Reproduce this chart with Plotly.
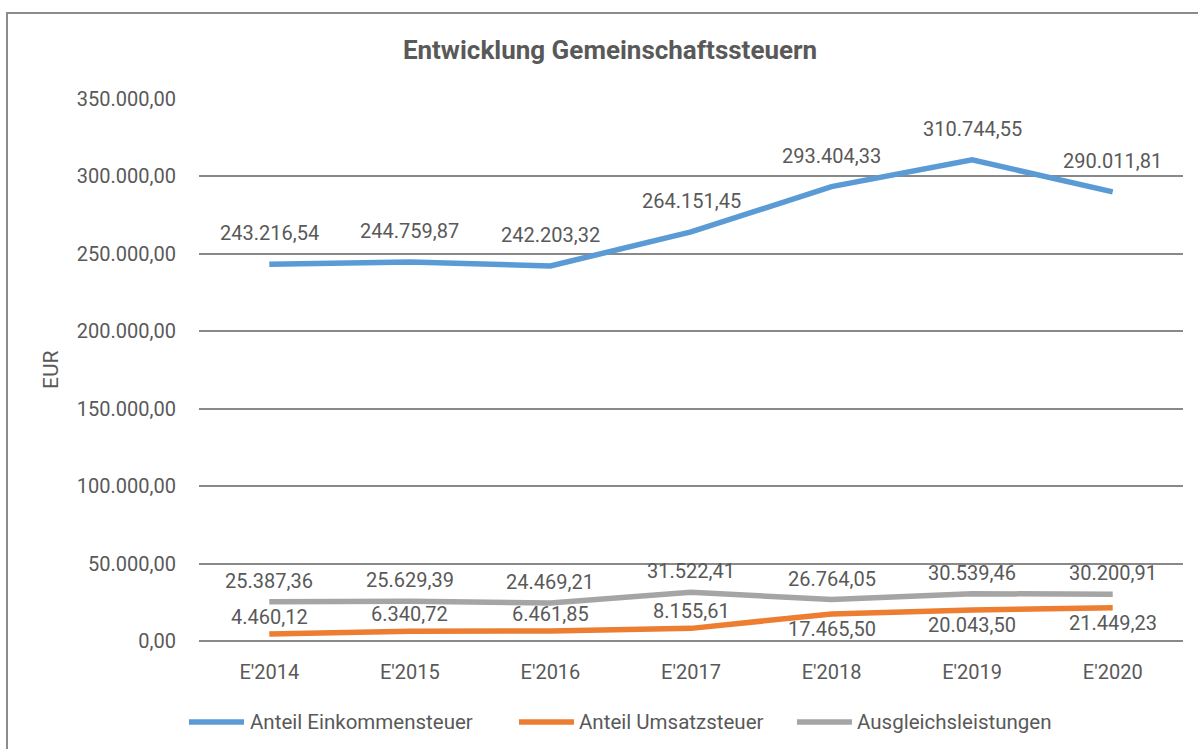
import plotly.graph_objects as go

categories = ["E'2014", "E'2015", "E'2016", "E'2017", "E'2018", "E'2019", "E'2020"]
einkommensteuer = [243216.54, 244759.87, 242203.32, 264151.45, 293404.33, 310744.55, 290011.81]
umsatzsteuer = [4460.12, 6340.72, 6461.85, 8155.61, 17465.50, 20043.50, 21449.23]
ausgleich = [25387.36, 25629.39, 24469.21, 31522.41, 26764.05, 30539.46, 30200.91]
series_names = ["Anteil Einkommensteuer", "Anteil Umsatzsteuer", "Ausgleichsleistungen"]
y_ticks = [0, 50000, 100000, 150000, 200000, 250000, 300000, 350000]
title_text = "Entwicklung Gemeinschaftssteuern"
y_title = "EUR"

# label placement (style only): above / below per point for the Umsatzsteuer series
ust_label_pos = ["above", "above", "above", "above", "below", "below", "below"]

FONT = "Roboto, Liberation Sans, Arial, sans-serif"
TXT = "#595959"
COLORS = ["#5B9BD5", "#ED7D31", "#A5A5A5"]
FS = 20

W, H = 1198, 749
L, R, T, B = 199, 15, 99, 108
PW, PH = W - L - R, H - T - B


def de(v):
    s = f"{v:,.2f}"
    return s.replace(",", "X").replace(".", ",").replace("X", ".")


def px_x(px):
    return (px - L) / PW


def px_y(py):
    return (H - B - py) / PH


fig = go.Figure()
data = [einkommensteuer, umsatzsteuer, ausgleich]
for name, vals, col in zip(series_names, data, COLORS):
    fig.add_trace(go.Scatter(x=categories, y=vals, mode="lines", name=name,
                             line=dict(color=col, width=5.5), showlegend=False,
                             hoverinfo="skip"))

# data labels
for i, c in enumerate(categories):
    fig.add_annotation(x=c, y=einkommensteuer[i], text=de(einkommensteuer[i]),
                       showarrow=False, yshift=31, font=dict(family=FONT, size=FS, color=TXT))
    fig.add_annotation(x=c, y=ausgleich[i], text=de(ausgleich[i]),
                       showarrow=False, yshift=21, font=dict(family=FONT, size=FS, color=TXT))
    sh = 17 if ust_label_pos[i] == "above" else -15
    fig.add_annotation(x=c, y=umsatzsteuer[i], text=de(umsatzsteuer[i]),
                       showarrow=False, yshift=sh, font=dict(family=FONT, size=FS, color=TXT))

# y-axis title
fig.add_annotation(xref="paper", yref="paper", x=px_x(37), y=px_y(370), text=y_title,
                   textangle=-90, showarrow=False, font=dict(family=FONT, size=21, color=TXT))

# custom legend
leg_y = px_y(722)
leg_items = [(189, 244, 248), (519, 574, 577), (797, 852, 855)]
for (x0, x1, xt), name, col in zip(leg_items, series_names, COLORS):
    fig.add_shape(type="line", xref="paper", yref="paper", x0=px_x(x0), x1=px_x(x1),
                  y0=leg_y, y1=leg_y, line=dict(color=col, width=5.5))
    fig.add_annotation(xref="paper", yref="paper", x=px_x(xt), y=leg_y, text=name,
                       xanchor="left", yanchor="middle", showarrow=False,
                       font=dict(family=FONT, size=20.5, color=TXT))

# chart border
fig.add_shape(type="rect", xref="paper", yref="paper", x0=px_x(7), x1=px_x(1215),
              y0=px_y(770), y1=px_y(13), line=dict(color="#8C8C8C", width=2), layer="below")

fig.update_layout(
    width=W, height=H,
    margin=dict(l=L, r=R, t=T, b=B),
    paper_bgcolor="white", plot_bgcolor="white",
    separators=",.",
    title=dict(text=f"<b>{title_text}</b>", x=610 / W, xanchor="center", y=1 - 50 / H,
               yanchor="middle", yref="container",
               font=dict(family=FONT, size=26, color=TXT)),
    xaxis=dict(type="category", showgrid=False, showline=False, ticks="",
               tickfont=dict(family=FONT, size=FS, color=TXT), ticklabelstandoff=17,
               range=[-0.5, len(categories) - 0.5]),
    yaxis=dict(range=[0, 350000], tickvals=y_ticks, tickformat=",.2f",
               showgrid=True, gridcolor="#898989", gridwidth=1.5,
               zeroline=True, zerolinecolor="#898989", zerolinewidth=1.5,
               showline=False, ticks="", ticklabelstandoff=22,
               tickfont=dict(family=FONT, size=FS, color=TXT)),
)

fig.write_html("out.html", config={"displayModeBar": False},
               post_script="document.body.style.margin='0';document.body.style.overflow='hidden';")
